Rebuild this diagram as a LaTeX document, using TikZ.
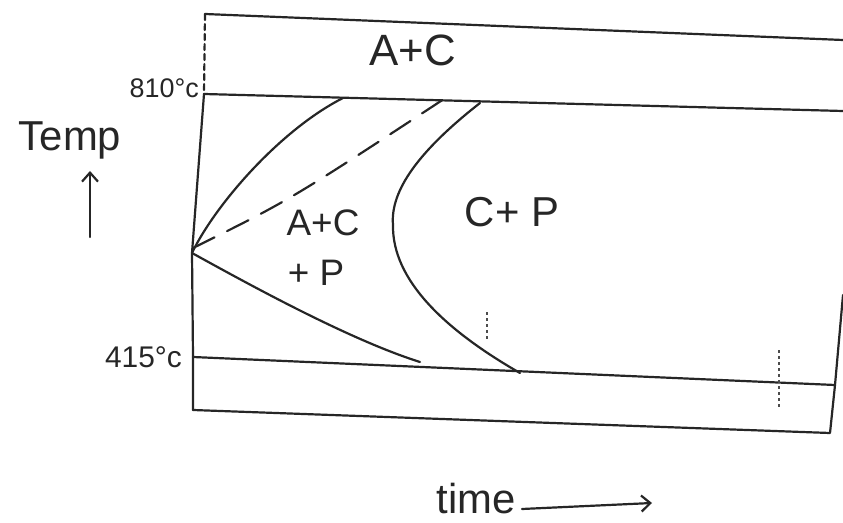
\documentclass[tikz,border=0pt]{standalone}
\usepackage{fontspec}
\setmainfont{Liberation Sans}
\usetikzlibrary{arrows.meta}
\tikzset{
  ink/.style={line width=2.2bp, line cap=round, line join=round, black!85},
  dashink/.style={ink, dash pattern=on 24bp off 14bp},
  tickmark/.style={line width=1.2bp, dash pattern=on 3bp off 3bp, black!70},
  lab/.style={inner sep=0pt, text=black!85},
  axisarrow/.style={ink, -{Straight Barb[length=9bp,width=16bp]}}
}
\begin{document}
\begin{tikzpicture}[x=1bp,y=-1bp]
\useasboundingbox (0,0) rectangle (843,523);
% frame corners
\coordinate (TL) at (205,14);
\coordinate (TR) at (843,40);
\coordinate (ML) at (204,94);
\coordinate (MR) at (843,111);
\coordinate (V)  at (192,253);
\coordinate (V2) at (193,248);
\coordinate (EL) at (193,357);
\coordinate (ER) at (835,385);
\coordinate (BL) at (193,410);
\coordinate (BR) at (830,433);
\coordinate (RT) at (843,295);
% curve ends
\coordinate (S1) at (343,98);
\coordinate (D1) at (447,97);
\coordinate (L1) at (420,362);
\coordinate (F0) at (480,103);
\coordinate (F1) at (393,225);
\coordinate (F2) at (520,373);
% ticks
\coordinate (k1a) at (487,312); \coordinate (k1b) at (487,340);
\coordinate (k2a) at (779,350); \coordinate (k2b) at (779,408);
% arrows
\coordinate (ta) at (90,237); \coordinate (tb) at (90,171);
\coordinate (xa) at (522,509); \coordinate (xb) at (652,503);

% frame
\draw[ink] (TL) -- (TR);
\draw[ink] (ML) -- (MR);
\draw[ink] (EL) -- (ER);
\draw[ink] (BL) -- (BR) -- (ER) -- (RT);
\draw[ink, dash pattern=on 6bp off 4bp] (TL) -- (ML);
\draw[ink] (ML) -- (V) -- (EL) -- (BL);

% transformation curves
\draw[ink] (V) .. controls (215,205) and (280,130) .. (S1);
\draw[dashink] (V2) .. controls (290,200) .. (D1);
\draw[ink] (V) .. controls (250,285) and (350,340) .. (L1);
\draw[ink] (F0) .. controls (420,150) and (390,190) .. (F1)
               .. controls (392,280) and (445,330) .. (F2);

% small ticks
\draw[tickmark] (k1a) -- (k1b);
\draw[tickmark] (k2a) -- (k2b);

% labels
\node[lab, font=\fontsize{44}{44}\selectfont] (ac1) at (413,50) {A+C};
\node[lab, font=\fontsize{27}{27}\selectfont, anchor=east] (t1) at (199,88) {810°c};
\node[lab, font=\fontsize{30}{30}\selectfont, anchor=east] (t2) at (182,357) {415°c};
\node[lab, font=\fontsize{42}{42}\selectfont] (temp) at (70,140) {Temp};
\node[lab, font=\fontsize{37}{37}\selectfont] (acp1) at (323,223) {A+C};
\node[lab, font=\fontsize{37}{37}\selectfont] (acp2) at (316,273) {+ P};
\node[lab, font=\fontsize{42}{42}\selectfont] (cp) at (512,212) {C+ P};
\node[lab, font=\fontsize{42}{42}\selectfont, anchor=base east] (time) at (516,513) {time};

\draw[axisarrow] (ta) -- (tb);
\draw[axisarrow] (xa) -- (xb);
\end{tikzpicture}
\end{document}
